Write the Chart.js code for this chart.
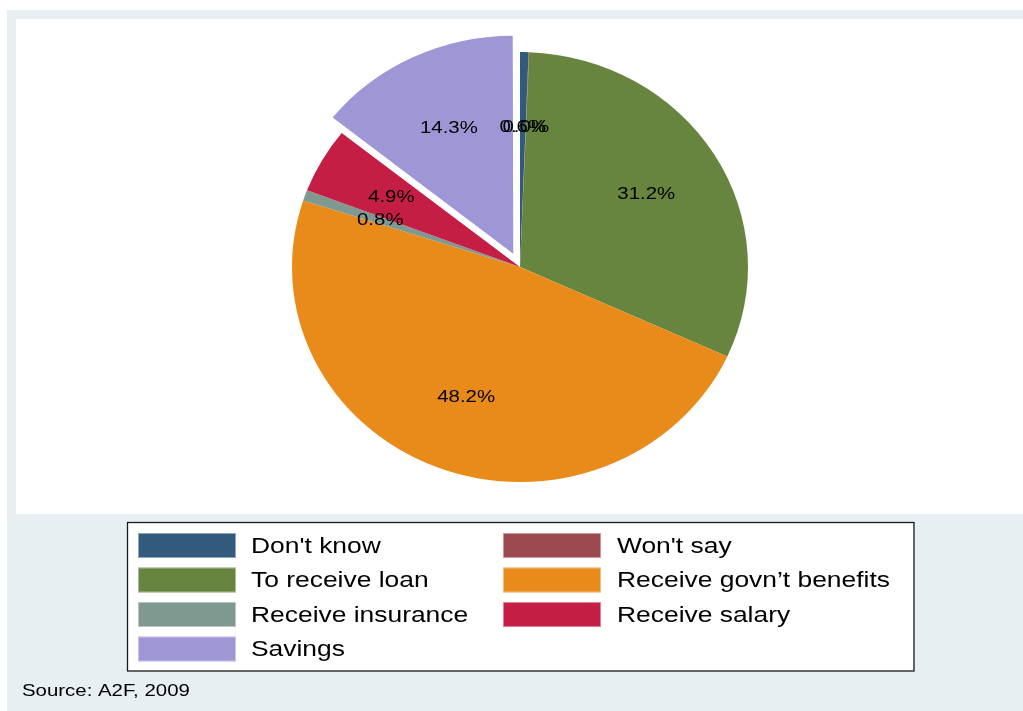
<!DOCTYPE html>
<html>
<head>
<meta charset="utf-8">
<style>
  html, body { margin: 0; padding: 0; background: #ffffff; }
  #wrap { position: relative; width: 1023px; height: 711px; }
  canvas { display: block; }
</style>
<script src="https://cdn.jsdelivr.net/npm/chart.js@4/dist/chart.umd.min.js"></script>
</head>
<body>
<div id="wrap"><canvas id="pie" width="1023" height="711"></canvas></div>
<script>
// Reasons for having a bank account (percent of respondents)
const categories = [
  "Don't know",
  "Won't say",
  "To receive loan",
  "Receive govn\u2019t benefits",
  "Receive insurance",
  "Receive salary",
  "Savings"
];
const shares = [0.6, 0.04, 31.2, 48.2, 0.8, 4.9, 14.3];
const sliceColors = ['#325a7d', '#9c4a50', '#688540', '#e88b1a', '#7f9990', '#c41e45', '#9f96d6'];
const explode = [0, 0, 0, 0, 0, 0, 62];
const sourceNote = 'Source: A2F, 2009';

const FONT = '"Liberation Sans", Arial, sans-serif';
const SQUASH = 0.943;   // vertical scale of the pie
const TEXT_WIDEN = 1.2; // horizontal stretch applied to all text

function wideText(ctx, text, x, y) {
  ctx.save();
  ctx.translate(x, y);
  ctx.scale(TEXT_WIDEN, 1);
  ctx.fillText(text, 0, 0);
  ctx.restore();
}

// Page backdrop: grey frame with white plot region
const backdrop = {
  id: 'backdrop',
  beforeDraw(chart) {
    const ctx = chart.ctx;
    ctx.save();
    ctx.fillStyle = '#e8eff2';
    ctx.fillRect(7, 10, chart.width - 7, chart.height - 10);
    ctx.fillStyle = '#ffffff';
    ctx.fillRect(16, 19, chart.width - 16, 514 - 19);
    ctx.restore();
  }
};

// Slightly flatten the pie vertically around its centre
const squash = {
  id: 'squash',
  beforeDatasetsDraw(chart) {
    const arc = chart.getDatasetMeta(0).data[0];
    const ctx = chart.ctx;
    ctx.save();
    ctx.translate(arc.x, arc.y);
    ctx.scale(1, SQUASH);
    ctx.translate(-arc.x, -arc.y);
  },
  afterDatasetsDraw(chart) {
    chart.ctx.restore();
  }
};

// Percentage labels inside each slice
const sliceLabels = {
  id: 'sliceLabels',
  afterDatasetsDraw(chart) {
    const ctx = chart.ctx;
    const meta = chart.getDatasetMeta(0);
    const values = chart.data.datasets[0].data;
    ctx.save();
    ctx.font = '17px ' + FONT;
    ctx.fillStyle = '#000000';
    ctx.textAlign = 'center';
    ctx.textBaseline = 'middle';
    meta.data.forEach((arc, i) => {
      const p = arc.getProps(['x', 'y', 'startAngle', 'endAngle', 'outerRadius']);
      const mid = (p.startAngle + p.endAngle) / 2;
      const off = (explode[i] || 0) / 4;
      const r = p.outerRadius * 0.65 + off;
      const lx = p.x + Math.cos(mid) * r;
      const ly = p.y + Math.sin(mid) * r * SQUASH;
      wideText(ctx, values[i].toFixed(1) + '%', lx, ly);
    });
    ctx.restore();
  }
};

// Boxed two-column legend plus source note
const boxLegend = {
  id: 'boxLegend',
  afterDraw(chart) {
    const ctx = chart.ctx;
    const items = chart.options.plugins.legend.labels.generateLabels(chart);
    ctx.save();
    ctx.fillStyle = '#ffffff';
    ctx.fillRect(127, 522, 787, 149);
    ctx.strokeStyle = '#1a1a1a';
    ctx.lineWidth = 1.3;
    ctx.strokeRect(127.5, 522.5, 786.5, 148.5);
    ctx.font = '22px ' + FONT;
    ctx.textBaseline = 'middle';
    ctx.textAlign = 'left';
    items.forEach((it, i) => {
      const col = i % 2;
      const row = Math.floor(i / 2);
      const sx = col === 0 ? 138 : 503;
      const tx = col === 0 ? 251 : 617;
      const cy = 545.5 + row * 34.5;
      ctx.fillStyle = it.fillStyle;
      ctx.fillRect(sx, cy - 12.5, 98, 25);
      ctx.strokeStyle = 'rgba(255,255,255,0.45)';
      ctx.lineWidth = 1;
      ctx.strokeRect(sx + 0.5, cy - 12, 97, 24);
      ctx.fillStyle = '#000000';
      wideText(ctx, it.text, tx, cy + 1);
    });
    ctx.font = '17px ' + FONT;
    ctx.fillStyle = '#000000';
    wideText(ctx, sourceNote, 22, 691);
    ctx.restore();
  }
};

new Chart(document.getElementById('pie'), {
  type: 'pie',
  data: {
    labels: categories,
    datasets: [{
      data: shares,
      backgroundColor: sliceColors,
      borderWidth: 0,
      offset: explode
    }]
  },
  options: {
    responsive: false,
    animation: false,
    radius: 228,
    rotation: 0,
    layout: { padding: { left: 270, right: 253, top: 17, bottom: 194 } },
    plugins: {
      legend: { display: false },
      tooltip: { enabled: false }
    }
  },
  plugins: [backdrop, squash, sliceLabels, boxLegend]
});
</script>
</body>
</html>
